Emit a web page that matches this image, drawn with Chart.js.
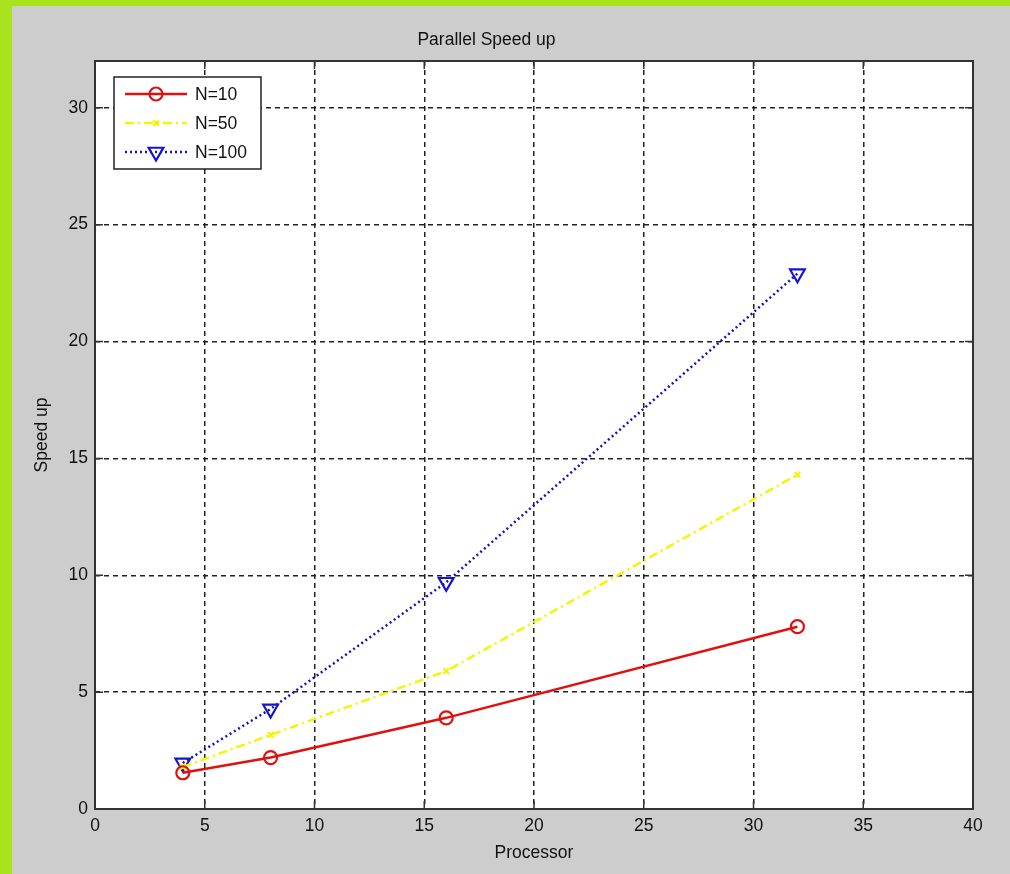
<!DOCTYPE html>
<html>
<head>
<meta charset="utf-8">
<title>Parallel Speed up</title>
<script src="https://cdn.jsdelivr.net/npm/chart.js@4.4.0/dist/chart.umd.min.js"></script>
<style>
  html, body { margin: 0; padding: 0; background: #a9e31e; }
  #wrap { width: 1010px; height: 874px; }
</style>
</head>
<body>
<div id="wrap"><canvas id="speedup" width="1010" height="874"></canvas></div>
<script>
// data
const processors = [4, 8, 16, 32];
const speedN10 = [1.55, 2.2, 3.9, 7.8];
const speedN50 = [1.8, 3.17, 5.9, 14.3];
const speedN100 = [1.97, 4.28, 9.7, 22.9];
const xTicks = [0, 5, 10, 15, 20, 25, 30, 35, 40];
const yTicks = [0, 5, 10, 15, 20, 25, 30];

const FONT = "'Liberation Sans', Arial, sans-serif";
const FSIZE = 17.5;

function pts(ys) {
  return processors.map((x, i) => ({ x: x, y: ys[i] }));
}

// green frame + grey figure background
const figureBg = {
  id: 'figureBg',
  beforeDraw(chart) {
    const ctx = chart.ctx;
    ctx.save();
    ctx.fillStyle = '#a9e31e';
    ctx.fillRect(0, 0, chart.width, chart.height);
    ctx.fillStyle = '#cdcdcd';
    ctx.fillRect(12, 6, chart.width - 12, chart.height - 6);
    const a = chart.chartArea;
    ctx.fillStyle = '#ffffff';
    ctx.fillRect(a.left, a.top, a.right - a.left, a.bottom - a.top);
    ctx.restore();
  }
};

// box around axes, inward tick marks, legend inside the axes
const axesBox = {
  id: 'axesBox',
  afterDraw(chart) {
    const ctx = chart.ctx;
    const a = chart.chartArea;
    const xs = chart.scales.x, ys = chart.scales.y;
    ctx.save();
    ctx.strokeStyle = '#333333';
    ctx.lineWidth = 2;
    ctx.strokeRect(a.left, a.top, a.right - a.left, a.bottom - a.top);

    ctx.lineWidth = 1.5;
    ctx.beginPath();
    xTicks.forEach(v => {
      const px = xs.getPixelForValue(v);
      ctx.moveTo(px, a.bottom); ctx.lineTo(px, a.bottom - 8);
      ctx.moveTo(px, a.top); ctx.lineTo(px, a.top + 8);
    });
    yTicks.forEach(v => {
      const py = ys.getPixelForValue(v);
      ctx.moveTo(a.left, py); ctx.lineTo(a.left + 8, py);
      ctx.moveTo(a.right, py); ctx.lineTo(a.right - 8, py);
    });
    ctx.stroke();

    // legend
    const lx = a.left + 19, ly = a.top + 16, lw = 147, lh = 92;
    ctx.fillStyle = '#ffffff';
    ctx.fillRect(lx, ly, lw, lh);
    ctx.strokeStyle = '#222222';
    ctx.lineWidth = 1.5;
    ctx.strokeRect(lx, ly, lw, lh);
    chart.data.datasets.forEach((ds, i) => {
      const cy = ly + 17 + i * 29;
      ctx.strokeStyle = ds.borderColor;
      ctx.lineWidth = ds.borderWidth;
      ctx.setLineDash(ds.borderDash || []);
      ctx.beginPath();
      ctx.moveTo(lx + 11, cy);
      ctx.lineTo(lx + 73, cy);
      ctx.stroke();
      ctx.setLineDash([]);
      ctx.strokeStyle = ds.pointBorderColor;
      ctx.fillStyle = 'rgba(255,255,255,0)';
      ctx.lineWidth = ds.pointBorderWidth;
      Chart.helpers.drawPoint(ctx, {
        pointStyle: ds.pointStyle,
        rotation: ds.pointRotation || 0,
        radius: ds.pointRadius,
        borderWidth: ds.pointBorderWidth
      }, lx + 42, cy);
      ctx.fillStyle = '#111111';
      ctx.font = FSIZE + 'px ' + FONT;
      ctx.textBaseline = 'middle';
      ctx.textAlign = 'left';
      ctx.fillText(ds.label, lx + 81, cy + 1);
    });
    ctx.restore();
  }
};

new Chart(document.getElementById('speedup'), {
  type: 'line',
  data: {
    datasets: [
      {
        label: 'N=10',
        data: pts(speedN10),
        borderColor: '#e01010',
        backgroundColor: 'rgba(0,0,0,0)',
        borderWidth: 2.5,
        pointStyle: 'circle',
        pointRadius: 6.5,
        pointBorderWidth: 2.2,
        pointBorderColor: '#e01010',
        pointBackgroundColor: 'rgba(0,0,0,0)'
      },
      {
        label: 'N=50',
        data: pts(speedN50),
        borderColor: '#f5f500',
        backgroundColor: 'rgba(0,0,0,0)',
        borderWidth: 2.5,
        borderDash: [9, 4, 2, 4],
        pointStyle: 'crossRot',
        pointRadius: 4,
        pointBorderWidth: 2.2,
        pointBorderColor: '#f5f500',
        pointBackgroundColor: 'rgba(0,0,0,0)'
      },
      {
        label: 'N=100',
        data: pts(speedN100),
        borderColor: '#1414b4',
        backgroundColor: 'rgba(0,0,0,0)',
        borderWidth: 2.5,
        borderDash: [2, 3],
        pointStyle: 'triangle',
        pointRotation: 180,
        pointRadius: 8.5,
        pointBorderWidth: 2.2,
        pointBorderColor: '#1414d2',
        pointBackgroundColor: 'rgba(0,0,0,0)'
      }
    ]
  },
  options: {
    responsive: false,
    animation: false,
    devicePixelRatio: 1,
    layout: { padding: { left: 0, right: 37, top: 0, bottom: 0 } },
    plugins: {
      legend: { display: false },
      tooltip: { enabled: false },
      title: {
        display: true,
        text: 'Parallel Speed up',
        color: '#111111',
        font: { family: FONT, size: FSIZE, weight: 'normal' },
        padding: { top: 30, bottom: 10 }
      }
    },
    scales: {
      x: {
        type: 'linear',
        min: 0,
        max: 40,
        afterBuildTicks: s => { s.ticks = xTicks.map(v => ({ value: v })); },
        afterFit: s => { s.height = 65; },
        grid: { color: '#222222', lineWidth: 1.5, drawTicks: false },
        border: { display: false, dash: [5, 4] },
        ticks: { color: '#111111', padding: 7, font: { family: FONT, size: FSIZE } },
        title: {
          display: true,
          text: 'Processor',
          color: '#111111',
          font: { family: FONT, size: FSIZE },
          padding: { top: 0, bottom: 10 }
        }
      },
      y: {
        type: 'linear',
        min: 0,
        max: 32,
        afterBuildTicks: s => { s.ticks = yTicks.map(v => ({ value: v })); },
        afterFit: s => { s.width = 95; },
        grid: { color: '#222222', lineWidth: 1.5, drawTicks: false },
        border: { display: false, dash: [5, 4] },
        ticks: { color: '#111111', padding: 7, font: { family: FONT, size: FSIZE } },
        title: {
          display: true,
          text: 'Speed up',
          color: '#111111',
          font: { family: FONT, size: FSIZE },
          padding: { top: 32, bottom: 0 }
        }
      }
    }
  },
  plugins: [figureBg, axesBox]
});
</script>
</body>
</html>
